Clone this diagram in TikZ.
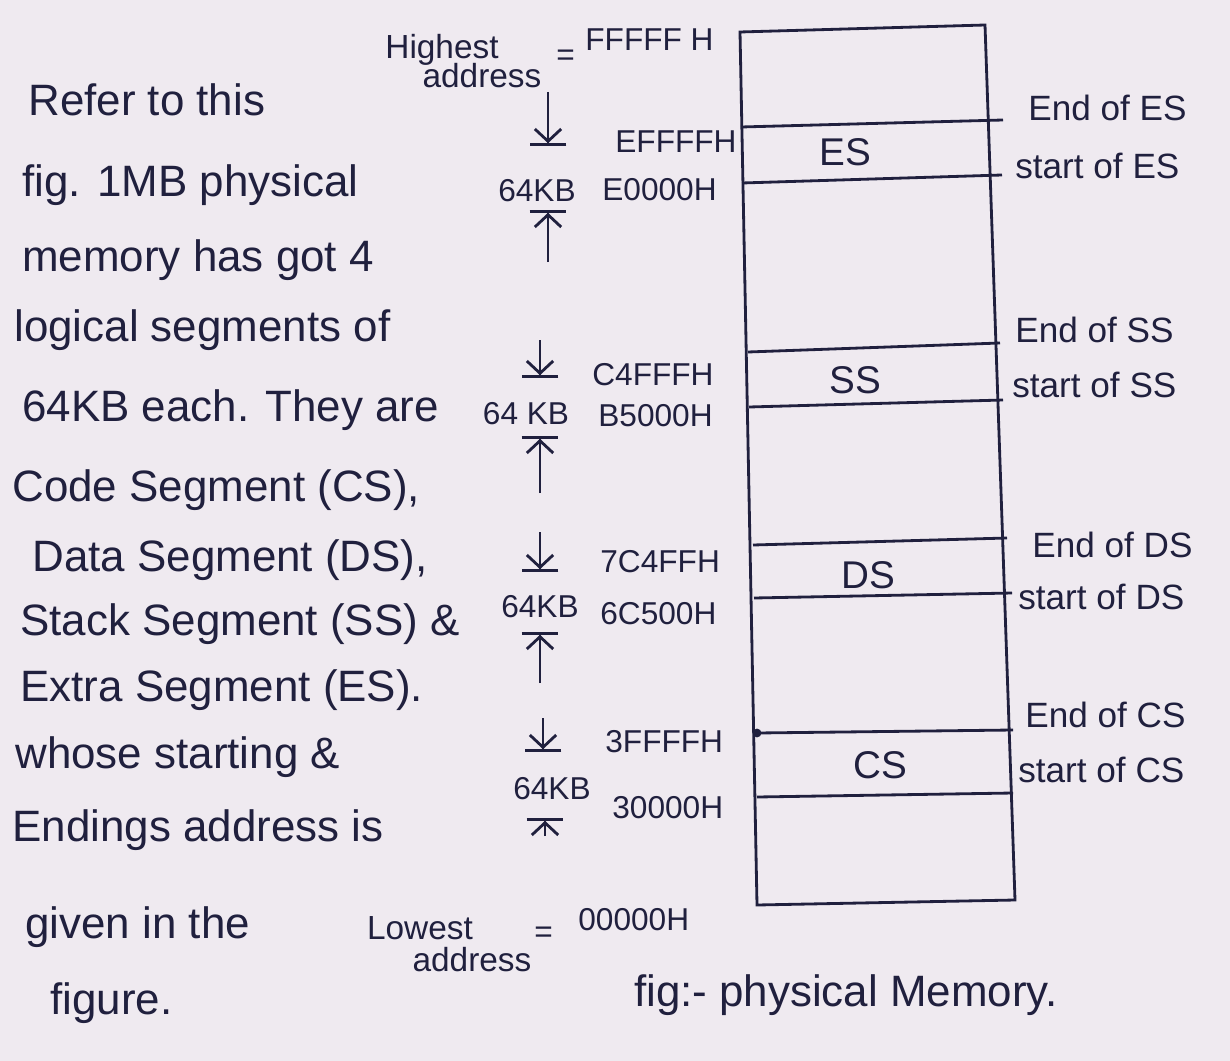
\documentclass[tikz,border=0pt]{standalone}
\usepackage{fontspec}
\setmainfont{Liberation Sans}
\usetikzlibrary{arrows.meta, positioning, calc}
\definecolor{paperpink}{RGB}{239,234,240}
\definecolor{inkblue}{RGB}{32,32,62}
\tikzset{
  hand/.style={text=inkblue, inner sep=0pt, font=\fontsize{25}{29}\selectfont},
  note/.style={hand, anchor=west},
  addr/.style={hand, anchor=west, font=\fontsize{18}{22}\selectfont},
  sidelab/.style={hand, anchor=west, font=\fontsize{20}{24}\selectfont},
  seglab/.style={hand, font=\fontsize{22}{26}\selectfont},
  memline/.style={draw=inkblue, line width=1.6pt},
  tobar/.style={draw=inkblue, line width=1.6pt, -{Straight Barb[length=7pt,width=15pt] Bar[width=21pt]}}
}

\begin{document}
\begin{tikzpicture}[x=0.02cm, y=-0.02cm]
  \fill[paperpink] (0,0) rectangle (1230,1061);

  % text on the left
  \node[note] (n1)  at (28,100)  {Refer to this};
  \node[note] (n2)  at (22,185)  {fig. 1MB physical};
  \node[note] (n3)  at (22,260)  {memory has got 4};
  \node[note] (n4)  at (14,330)  {logical segments of};
  \node[note] (n5)  at (22,410)  {64KB each. They are};
  \node[note] (n6)  at (12,490)  {Code Segment (CS),};
  \node[note] (n7)  at (32,560)  {Data Segment (DS),};
  \node[note] (n8)  at (20,624)  {Stack Segment (SS) \&};
  \node[note] (n9)  at (20,690)  {Extra Segment (ES).};
  \node[note] (n10) at (15,757)  {whose starting \&};
  \node[note] (n11) at (12,830)  {Endings address is};
  \node[note] (n12) at (25,927)  {given in the};
  \node[note] (n13) at (50,1003) {figure.};

  % highest / lowest address
  \node[hand, font=\fontsize{19}{22}\selectfont] (hi1) at (442,50) {Highest};
  \node[hand, font=\fontsize{19}{22}\selectfont] (hi2) at (482,76) {address};
  \node[addr] (hieq) at (556,58) {=};
  \node[addr] (hival) at (585,40) {FFFFF H};
  \node[hand, font=\fontsize{19}{22}\selectfont] (lo1) at (420,928) {Lowest};
  \node[hand, font=\fontsize{19}{22}\selectfont] (lo2) at (472,960) {address};
  \node[addr] (loeq) at (534,935) {=};
  \node[addr] (loval) at (578,920) {00000H};

  % segment addresses
  \node[addr] (esend)   at (615,142) {EFFFFH};
  \node[addr] (esstart) at (602,190) {E0000H};
  \node[addr] (ssend)   at (592,375) {C4FFFH};
  \node[addr] (ssstart) at (598,416) {B5000H};
  \node[addr] (dsend)   at (600,562) {7C4FFH};
  \node[addr] (dsstart) at (600,614) {6C500H};
  \node[addr] (csend)   at (605,742) {3FFFFH};
  \node[addr] (csstart) at (612,808) {30000H};

  \node[hand, font=\fontsize{18}{22}\selectfont] (kb1) at (537,191) {64KB};
  \node[hand, font=\fontsize{18}{22}\selectfont] (kb2) at (526,414) {64 KB};
  \node[hand, font=\fontsize{18}{22}\selectfont] (kb3) at (540,607) {64KB};
  \node[hand, font=\fontsize{18}{22}\selectfont] (kb4) at (552,789) {64KB};

  % size arrows
  \coordinate (d1a) at (548,92);  \coordinate (d1b) at (548,146);
  \coordinate (u1a) at (548,262); \coordinate (u1b) at (548,210);
  \coordinate (d2a) at (540,340); \coordinate (d2b) at (540,378);
  \coordinate (u2a) at (540,493); \coordinate (u2b) at (540,436);
  \coordinate (d3a) at (540,532); \coordinate (d3b) at (540,572);
  \coordinate (u3a) at (540,683); \coordinate (u3b) at (540,632);
  \coordinate (d4a) at (543,718); \coordinate (d4b) at (543,752);
  \coordinate (u4a) at (545,836); \coordinate (u4b) at (545,818);
  \draw[tobar] (d1a) -- (d1b);
  \draw[tobar] (u1a) -- (u1b);
  \draw[tobar] (d2a) -- (d2b);
  \draw[tobar] (u2a) -- (u2b);
  \draw[tobar] (d3a) -- (d3b);
  \draw[tobar] (u3a) -- (u3b);
  \draw[tobar] (d4a) -- (d4b);
  \draw[tobar] (u4a) -- (u4b);

  % physical memory
  \coordinate (tl) at (740,32);
  \coordinate (tr) at (985,25);
  \coordinate (br) at (1015,900);
  \coordinate (bl) at (757,905);
  \draw[memline] (tl) -- (tr) -- (br) -- (bl) -- cycle;
  \foreach \xa/\ya/\xb/\yb in {741/127/1003/120, 742/183/1002/175,
      748/352/1000/343, 749/407/1003/400, 753/545/1007/538,
      754/598/1012/593, 757/733/1013/730, 757/797/1013/793}
    \draw[memline] (\xa,\ya) -- (\xb,\yb);
  \fill[inkblue] (757,733) circle (2.5pt);

  \node[seglab] (es) at (845,152) {ES};
  \node[seglab] (ss) at (855,380) {SS};
  \node[seglab] (ds) at (868,575) {DS};
  \node[seglab] (cs) at (880,765) {CS};

  % labels on the right
  \node[sidelab] (r1) at (1028,108) {End of ES};
  \node[sidelab] (r2) at (1015,166) {start of ES};
  \node[sidelab] (r3) at (1015,330) {End of SS};
  \node[sidelab] (r4) at (1012,385) {start of SS};
  \node[sidelab] (r5) at (1032,545) {End of DS};
  \node[sidelab] (r6) at (1018,597) {start of DS};
  \node[sidelab] (r7) at (1025,715) {End of CS};
  \node[sidelab] (r8) at (1018,770) {start of CS};

  \node[hand] (cap) at (846,995) {fig:- physical Memory.};
\end{tikzpicture}
\end{document}
